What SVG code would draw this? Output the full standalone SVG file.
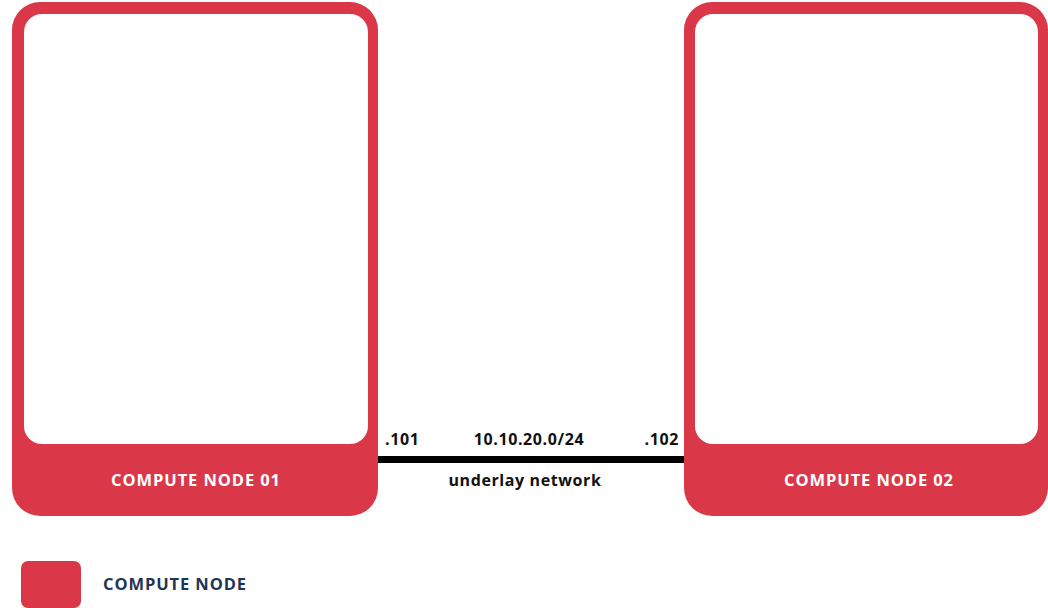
<svg xmlns="http://www.w3.org/2000/svg" width="1048" height="608" viewBox="0 0 1048 608">
  <style>
    .frame { fill: #da3849; }
    .panel { fill: #ffffff; }
    .node-label { font-family: "Open Sans", "Liberation Sans", sans-serif; font-weight: 700; font-size: 16.5px; letter-spacing: 0.9px; fill: #ffffff; text-anchor: middle; }
    .net-label { font-family: "Open Sans", "Liberation Sans", sans-serif; font-weight: 700; font-size: 16px; letter-spacing: 0.6px; fill: #111111; }
    .legend-label { font-family: "Open Sans", "Liberation Sans", sans-serif; font-weight: 700; font-size: 16.5px; letter-spacing: 0.9px; fill: #1f3557; }
  </style>
  <rect width="1048" height="608" fill="#ffffff"/>

  <!-- network link between the two hosts -->
  <g id="connectors">
    <line x1="378" y1="459.5" x2="684" y2="459.5" stroke="#000000" stroke-width="7"/>
    <text class="net-label" x="385" y="445">.101</text>
    <text class="net-label" x="529" y="445" text-anchor="middle">10.10.20.0/24</text>
    <text class="net-label" x="679" y="445" text-anchor="end">.102</text>
    <text class="net-label" x="525" y="486" text-anchor="middle">underlay network</text>
  </g>

  <g id="compute-node-01">
    <rect class="frame" x="12" y="2" width="366" height="514" rx="28"/>
    <rect class="panel" x="24" y="14" width="344" height="430" rx="18"/>
    <text class="node-label" x="196" y="486">COMPUTE NODE 01</text>
  </g>

  <g id="compute-node-02">
    <rect class="frame" x="684" y="2" width="364" height="514" rx="28"/>
    <rect class="panel" x="695" y="14" width="343" height="430" rx="18"/>
    <text class="node-label" x="869" y="486">COMPUTE NODE 02</text>
  </g>

  <g id="legend">
    <rect class="frame" x="21" y="561" width="60" height="47" rx="7"/>
    <text class="legend-label" x="103" y="590">COMPUTE NODE</text>
  </g>
</svg>
